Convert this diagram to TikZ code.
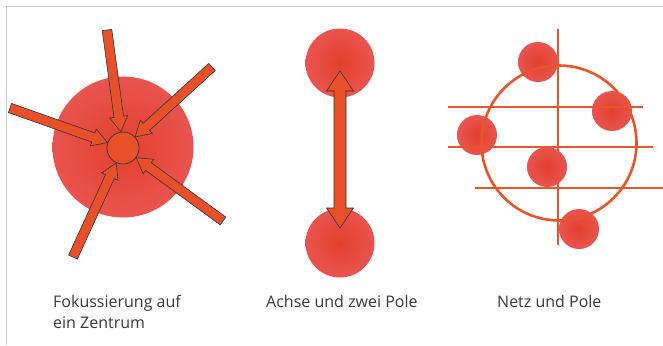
\documentclass[tikz,border=0pt]{standalone}
\usepackage{fontspec}
\setmainfont{Open Sans}
\usepackage{tikz}
\usetikzlibrary{calc, positioning}

\definecolor{framecol}{HTML}{C8CCDC}
\definecolor{arrowfill}{HTML}{E8502A}
\definecolor{poleinner}{HTML}{E3402C}
\definecolor{poleouter}{HTML}{E9544F}
\definecolor{netcol}{HTML}{E8552A}
\definecolor{labelcol}{HTML}{3A3A3A}

\tikzset{
  pole/.style={
    circle, inner sep=0pt, shading=radial,
    inner color=poleinner, outer color=poleouter
  },
  hubnode/.style={
    circle, draw=black!80, fill=arrowfill, line width=0.7pt,
    inner sep=0pt, minimum size=32pt
  },
  arrowbody/.style={
    fill=arrowfill, draw=black!80, line width=0.6pt, line join=miter
  },
  netline/.style={
    draw=netcol, line width=2.6pt
  },
  caption/.style={
    anchor=north west, align=left, text=labelcol,
    font=\fontsize{16}{21}\selectfont, inner sep=0pt
  },
}

% block arrow: tail, tip, shaft half width, head half width, head length
\newcommand\blockarrow[5]{%
  \coordinate (ba) at ($(#2)!#5!(#1)$);
  \filldraw[arrowbody] ($(#1)!#3!90:(#2)$) -- ($(ba)!#3!90:(#2)$)
    -- ($(ba)!#4!90:(#2)$) -- (#2) -- ($(ba)!#4!-90:(#2)$)
    -- ($(ba)!#3!-90:(#2)$) -- ($(#1)!#3!-90:(#2)$) -- cycle;}

% double block arrow: tip a, tip b, shaft half width, head half width, head length
\newcommand\dblarrow[5]{%
  \coordinate (bb) at ($(#2)!#5!(#1)$);
  \coordinate (ba) at ($(#1)!#5!(#2)$);
  \filldraw[arrowbody] ($(ba)!#3!90:(#2)$) -- ($(bb)!#3!90:(#2)$)
    -- ($(bb)!#4!90:(#2)$) -- (#2) -- ($(bb)!#4!-90:(#2)$)
    -- ($(bb)!#3!-90:(#2)$) -- ($(ba)!#3!-90:(#2)$)
    -- ($(ba)!#4!-90:(#2)$) -- (#1) -- ($(ba)!#4!90:(#2)$) -- cycle;}

\begin{document}
\begin{tikzpicture}[x=1pt, y=-1pt]
  \useasboundingbox (0,0) rectangle (663,345);
  \fill[white] (0,0) rectangle (663,345);

  % ── Frame ──
  \draw[framecol, line width=1.5pt] (6.5,345) -- (6.5,6.5) -- (663,6.5);

  % ── Fokussierung ──
  \node[pole, minimum size=141pt] (focus) at (123,147) {};
  \coordinate (t1) at (107,30);
  \coordinate (t2) at (212,67);
  \coordinate (t3) at (223,221);
  \coordinate (t4) at (73,257);
  \coordinate (t5) at (10,108);
  \node[hubnode] (hub) at (123,148) {};
  \foreach \t in {t1,t2,t3,t4,t5}{
    \coordinate (tip) at ($(hub)!16.5pt!(\t)$);
    \blockarrow{\t}{tip}{4.8pt}{9pt}{15pt}
  }

  % ── Achse ──
  \node[pole, minimum size=69pt] (poleA) at (340,63) {};
  \node[pole, minimum size=69pt] (poleB) at (340,243) {};
  \coordinate (tipA) at ($(poleA)!8pt!(poleB)$);
  \coordinate (tipB) at ($(poleB)!15pt!(poleA)$);
  \dblarrow{tipA}{tipB}{6pt}{13.5pt}{20pt}

  % ── Netz ──
  \node[pole, minimum size=40pt] (ball1) at (538,62) {};
  \node[pole, minimum size=40pt] (ball2) at (612,111) {};
  \node[pole, minimum size=40pt] (ball3) at (477,135) {};
  \node[pole, minimum size=40pt] (ball5) at (579,229) {};
  \draw[netline] (558,29) -- (558,245);
  \draw[netline] (448,107) -- (643,107);
  \draw[netline] (448,147) -- (653,147);
  \draw[netline] (475,188) -- (663,188);
  \draw[netline] (559,143) circle[radius=77.5];
  \node[pole, minimum size=40pt] (ball4) at (547,167) {};

  % ── Captions ──
  \node[caption] (capA) at (53,295) {Fokussierung auf\\ein Zentrum};
  \node[caption] (capB) at (266,295) {Achse und zwei Pole};
  \node[caption] (capC) at (497,295) {Netz und Pole};
\end{tikzpicture}
\end{document}
